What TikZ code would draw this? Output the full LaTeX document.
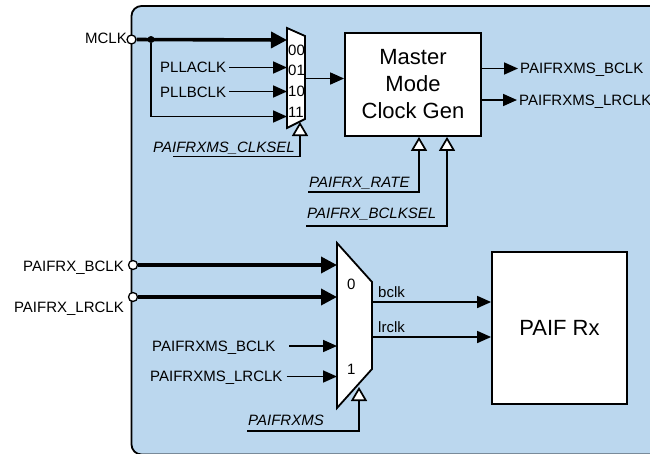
\documentclass[tikz,border=0pt]{standalone}
\usepackage{fontspec}
\setmainfont{Liberation Sans}
\usetikzlibrary{arrows.meta,calc}
\definecolor{panel}{RGB}{187,215,238}
\begin{document}
\begin{tikzpicture}[x=1pt,y=-1pt,
  lbl/.style={font=\fontsize{15}{18}\selectfont, inner sep=0pt, text depth=0pt},
  ilbl/.style={font=\fontsize{15}{18}\selectfont\itshape, inner sep=0pt, text depth=0pt},
  wire/.style={line width=1.7pt},
  arr/.style={wire,-{Triangle[length=14pt,width=12pt]}},
  barr/.style={line width=3.6pt,-{Triangle[length=16pt,width=16pt]}},
  sel/.style={wire,-{Triangle[open,fill=white,length=14pt,width=16pt]}},
  block/.style={draw,line width=1.8pt,fill=white,inner sep=0pt},
  port/.style={circle,draw,line width=1.3pt,fill=white,minimum size=9pt,inner sep=0pt},
  jdot/.style={circle,fill=black,minimum size=7pt,inner sep=0pt},
  big/.style={font=\fontsize{22}{27}\selectfont, align=center}]

\useasboundingbox (0,0) rectangle (650,453);
\fill[white] (0,0) rectangle (650,453);
\draw[line width=1.8pt, fill=panel, rounded corners=10pt] (131.5,6) rectangle (680,454.5);

% ---------- mux 1 ----------
\draw[block] (287,28) -- (305,36) -- (305,119) -- (287,128) -- cycle;
\coordinate (m1i0) at (287,40);
\coordinate (m1i1) at (287,67.5);
\coordinate (m1i2) at (287,91.5);
\coordinate (m1i3) at (287,116.5);
\coordinate (m1o) at (305,78.5);
\coordinate (m1s) at (300,122);
\node[lbl, anchor=west] (s00) at (288,50.5) {00};
\node[lbl, anchor=west] (s01) at (288,70.5) {01};
\node[lbl, anchor=west] (s10) at (288,91) {10};
\node[lbl, anchor=west] (s11) at (288,112) {11};

% master clock gen
\node[block, big, minimum width=136pt, minimum height=103pt] (master) at (413,84.5) {Master\\Mode\\Clock Gen};

% inputs of mux 1
\node[lbl, anchor=east] (mclkl) at (127,38.5) {MCLK};
\node[port] (mclk) at (131.5,39.5) {};
\draw[barr] (mclk) -- (m1i0);
\node[jdot] (jn) at (151,39.5) {};
\draw[arr] (jn) |- (m1i3);
\node[lbl, anchor=west] (plla) at (160,67.5) {PLLACLK};
\node[lbl, anchor=west] (pllb) at (160,92) {PLLBCLK};
\draw[arr] ($(plla.east |- m1i1)+(3,0)$) -- (m1i1);
\draw[arr] ($(pllb.east |- m1i2)+(3,0)$) -- (m1i2);
\node[ilbl, anchor=west] (clksel) at (153,147) {PAIFRXMS\_CLKSEL};
\coordinate (cs0) at (173,156.5);
\draw[sel] (cs0) -| (m1s);
\draw[arr] (m1o) -- (m1o -| master.west);

% master outputs
\node[lbl, anchor=west] (msb) at (520,68.5) {PAIFRXMS\_BCLK};
\node[lbl, anchor=west] (msl) at (519,100) {PAIFRXMS\_LRCLK};
\draw[arr] (master.east |- msb.west) -- ($(msb.west)+(-2,0)$);
\draw[arr] (master.east |- msl.west) -- ($(msl.west)+(-2,0)$);

% master controls
\node[ilbl, anchor=west] (rate) at (309,182) {PAIFRX\_RATE};
\node[ilbl, anchor=west] (bsel) at (307,213.5) {PAIFRX\_BCLKSEL};
\coordinate (r0) at (308,192);
\coordinate (b0) at (306,226);
\draw[sel] (r0) -| ([xshift=6pt]master.south);
\draw[sel] (b0) -| ([xshift=34pt]master.south);

% ---------- mux 2 ----------
\draw[block] (337,243) -- (372,282) -- (372,369) -- (337,408) -- cycle;
\coordinate (m2i0) at (337,265);
\coordinate (m2i1) at (337,297);
\coordinate (m2i2) at (337,346);
\coordinate (m2i3) at (337,376.5);
\coordinate (m2o0) at (372,302);
\coordinate (m2o1) at (372,337);
\coordinate (m2s) at (359,387);
\node[lbl, anchor=west] (z0) at (347,284) {0};
\node[lbl, anchor=west] (z1) at (347,369) {1};

\node[lbl, anchor=east] (pbl) at (124,266) {PAIFRX\_BCLK};
\node[lbl, anchor=east] (pll) at (124,307.5) {PAIFRX\_LRCLK};
\node[port] (pb) at (133,265) {};
\node[port] (pl) at (133,297) {};
\draw[barr] (pb) -- (m2i0);
\draw[barr] (pl) -- (m2i1);
\node[lbl, anchor=west] (xb) at (152,346) {PAIFRXMS\_BCLK};
\node[lbl, anchor=west] (xl) at (150,376.5) {PAIFRXMS\_LRCLK};
\draw[arr] ($(xb.east |- m2i2)+(14,0)$) -- (m2i2);
\draw[arr] ($(xl.east |- m2i3)+(4,0)$) -- (m2i3);
\node[ilbl, anchor=west] (ms) at (248,420) {PAIFRXMS};
\coordinate (ms0) at (247,431);
\draw[sel] (ms0) -| (m2s);

% PAIF Rx
\node[block, big, minimum width=135pt, minimum height=152pt] (rx) at (559.5,328) {PAIF Rx};
\draw[arr] (m2o0) -- (m2o0 -| rx.west);
\draw[arr] (m2o1) -- (m2o1 -| rx.west);
\node[lbl, anchor=west] (bclk) at (378,292) {bclk};
\node[lbl, anchor=west] (lrclk) at (378,327) {lrclk};
\end{tikzpicture}
\end{document}
